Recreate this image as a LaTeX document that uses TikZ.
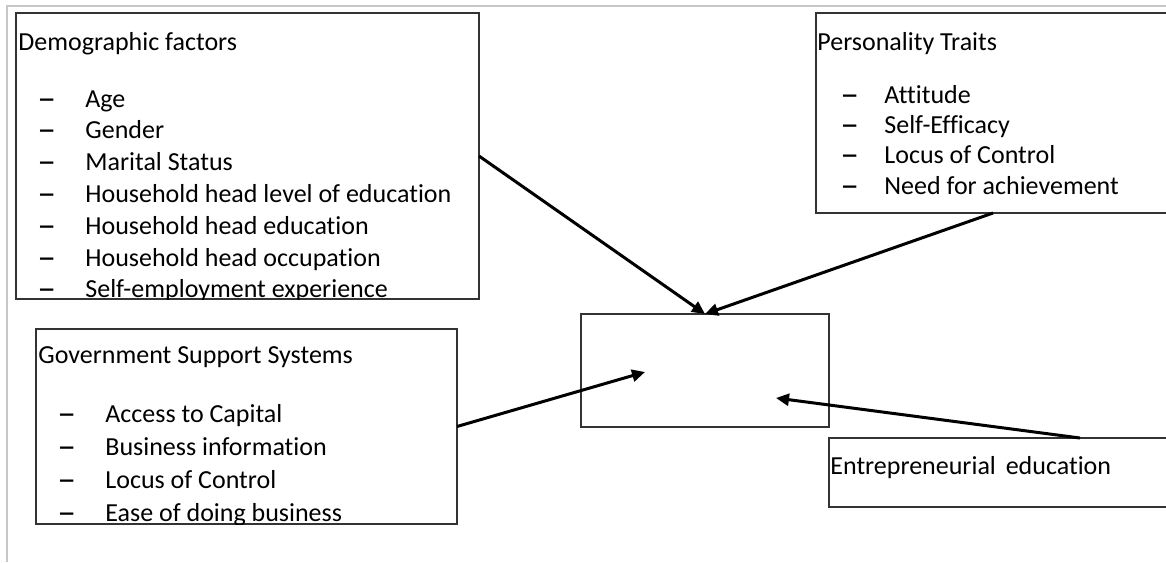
\documentclass[tikz,border=0pt]{standalone}
\usepackage{fontspec}
\usepackage{graphicx}
\setmainfont{Carlito}[Ligatures={TeX,NoCommon}]
\usetikzlibrary{arrows.meta,calc}

% one list entry: dash, then the text
\newcommand{\trait}[2][9.5pt]{\hspace*{#1}\makebox[\dimexpr 33.5pt-#1\relax][l]{\scalebox{1.45}[1]{\bfseries –}}#2}

\tikzset{
  factor/.style={draw=black!80, line width=0.6pt, rectangle, anchor=north west,
    inner sep=0pt, outer sep=0pt},
  listtext/.style={anchor=base west, inner sep=0pt, align=left,
    font=\fontsize{13pt}{15.9pt}\selectfont},
  link/.style={-{Triangle[length=6.5pt,width=6pt]}, line width=1.5pt},
  pagerule/.style={draw=black!22, line width=1pt}
}

\begin{document}
\begin{tikzpicture}[x=0.5pt, y=-0.5pt]
  \useasboundingbox (0,0) rectangle (1166,562);
  \clip (0,0) rectangle (1166,562);

  \draw[pagerule] (1166,6) -- (7,6) -- (7,562);

  % boxes
  \node[factor, minimum width=231.5pt, minimum height=143pt] (demo) at (16,13) {};
  \node[factor, minimum width=177pt, minimum height=100pt] (pers) at (816,13) {};
  \node[factor, minimum width=210.5pt, minimum height=97.5pt] (gov) at (36,329) {};
  \node[factor, minimum width=124pt, minimum height=56.5pt] (core) at (581,314) {};
  \node[factor, minimum width=175.5pt, minimum height=34.5pt] (entre) at (829,438) {};

  % texts
  \begin{scope}
    \clip (demo.north west) rectangle (demo.south east);
    \node[listtext] (demotext) at (18,50) {\begin{tabular}[t]{@{}l@{}}
      Demographic factors\\[12.6pt]
      \trait{Age}\\
      \trait{Gender}\\
      \trait{Marital Status}\\
      \trait{Household head level of education}\\
      \trait{Household head education}\\
      \trait{Household head occupation}\\
      \trait{Self-employment experience}
    \end{tabular}};
  \end{scope}

  \node[listtext, font=\fontsize{13pt}{15.2pt}\selectfont] (perstext) at (817,50) {\begin{tabular}[t]{@{}l@{}}
    Personality Traits\\[11.3pt]
    \trait[11.5pt]{Attitude}\\
    \trait[11.5pt]{Self-Efficacy}\\
    \trait[11.5pt]{Locus of Control}\\
    \trait[11.5pt]{Need for achievement}
  \end{tabular}};

  \begin{scope}
    \clip (gov.north west) rectangle (gov.south east);
    \node[listtext, font=\fontsize{13pt}{16.5pt}\selectfont] (govtext) at (38,363) {\begin{tabular}[t]{@{}l@{}}
      Government Support Systems\\[13pt]
      \trait{Access to Capital}\\
      \trait{Business information}\\
      \trait{Locus of Control}\\
      \trait{Ease of doing business}
    \end{tabular}};
  \end{scope}

  \node[listtext] (entretext) at (830,474) {Entrepreneurial\hspace{2pt} education};

  % arrows
  \coordinate (govend) at ($(core.center)+(-60,1.5)$);
  \coordinate (entreend) at ($(core.center)+(71,27.5)$);
  \coordinate (entrestart) at ($(entre.north west)+(251,0)$);

  \draw[link] (demo.east) -- (core.north);
  \draw[link] (pers.south) -- (core.north);
  \draw[link] (gov.east) -- (govend);
  \draw[link] (entrestart) -- (entreend);
\end{tikzpicture}
\end{document}
